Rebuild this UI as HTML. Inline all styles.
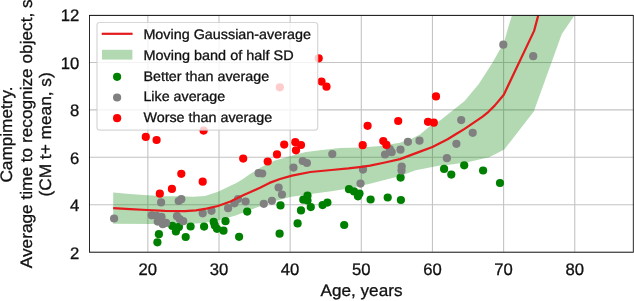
<!DOCTYPE html>
<html><head><meta charset="utf-8"><title>Campimetry</title>
<style>html,body{margin:0;padding:0;background:#fff}svg{display:block}text{font-family:"Liberation Sans",Arial,Helvetica,sans-serif;fill:#111;stroke:#111;stroke-width:0.3px;text-rendering:geometricPrecision}</style></head><body>
<svg width="634" height="301" viewBox="0 0 634 301">
<rect width="634" height="301" fill="#fff"/>
<defs><clipPath id="ax"><rect x="89.45" y="15.45" width="543.85" height="236.75"/></clipPath></defs>
<path d="M147.85 15.45V252.20M219.00 15.45V252.20M290.15 15.45V252.20M361.30 15.45V252.20M432.45 15.45V252.20M503.60 15.45V252.20M574.75 15.45V252.20M89.45 252.20H633.30M89.45 204.76H633.30M89.45 157.32H633.30M89.45 109.88H633.30M89.45 62.44H633.30M89.45 15.00H633.30" stroke="#c4c4c4" stroke-width="1.1" fill="none"/>
<g clip-path="url(#ax)">
<path d="M113.2 192.5 L130.0 194.0 L147.7 195.3 L165.0 196.3 L180.0 196.2 L193.0 196.8 L205.0 195.9 L218.0 191.8 L230.5 185.8 L236.3 182.9 L243.0 179.0 L248.9 174.7 L261.5 167.1 L274.2 160.8 L290.6 155.9 L306.0 152.0 L320.0 150.2 L340.0 147.9 L361.0 147.4 L380.0 145.9 L400.0 142.8 L410.0 139.5 L420.0 134.5 L432.0 124.5 L440.0 120.5 L451.4 111.6 L464.6 101.0 L478.8 84.0 L492.6 62.6 L499.6 50.0 L503.5 44.0 L508.5 26.5 L512.1 15.1 L574.8 15.1 L561.8 34.1 L533.8 111.5 L504.3 149.4 L489.2 157.2 L468.4 161.9 L449.5 164.7 L440.0 165.5 L415.7 170.3 L400.0 176.0 L370.0 183.7 L348.4 188.4 L331.4 191.3 L310.6 194.1 L290.3 197.0 L280.0 199.8 L268.9 202.8 L260.0 206.2 L250.0 210.0 L235.7 215.6 L218.7 220.3 L203.5 223.1 L188.4 224.0 L150.0 224.0 L113.2 223.8 Z" fill="#008000" fill-opacity="0.3"/>
<g fill="#008000"><circle cx="158.9" cy="234.2" r="4.1"/><circle cx="157.4" cy="242.3" r="4.1"/><circle cx="172.3" cy="225.9" r="4.1"/><circle cx="175.9" cy="231.5" r="4.1"/><circle cx="178.9" cy="226.9" r="4.1"/><circle cx="176.5" cy="228.0" r="4.1"/><circle cx="190.6" cy="226.5" r="4.1"/><circle cx="204.1" cy="226.6" r="4.1"/><circle cx="185.7" cy="237.0" r="4.1"/><circle cx="213.7" cy="221.9" r="4.1"/><circle cx="214.8" cy="225.4" r="4.1"/><circle cx="217.0" cy="228.8" r="4.1"/><circle cx="223.5" cy="230.7" r="4.1"/><circle cx="225.5" cy="221.2" r="4.1"/><circle cx="247.2" cy="211.6" r="4.1"/><circle cx="239.1" cy="236.8" r="4.1"/><circle cx="280.5" cy="205.4" r="4.1"/><circle cx="307.5" cy="195.7" r="4.1"/><circle cx="303.3" cy="199.7" r="4.1"/><circle cx="307.5" cy="200.6" r="4.1"/><circle cx="310.8" cy="207.1" r="4.1"/><circle cx="327.4" cy="202.6" r="4.1"/><circle cx="322.6" cy="205.1" r="4.1"/><circle cx="301.0" cy="210.4" r="4.1"/><circle cx="279.6" cy="233.7" r="4.1"/><circle cx="297.6" cy="223.4" r="4.1"/><circle cx="400.6" cy="177.6" r="4.1"/><circle cx="349.0" cy="189.2" r="4.1"/><circle cx="354.0" cy="191.4" r="4.1"/><circle cx="359.5" cy="193.5" r="4.1"/><circle cx="358.0" cy="196.3" r="4.1"/><circle cx="370.6" cy="199.5" r="4.1"/><circle cx="387.7" cy="197.5" r="4.1"/><circle cx="400.9" cy="200.0" r="4.1"/><circle cx="344.2" cy="225.0" r="4.1"/><circle cx="444.1" cy="168.9" r="4.1"/><circle cx="451.3" cy="174.6" r="4.1"/><circle cx="464.2" cy="165.3" r="4.1"/><circle cx="483.1" cy="170.5" r="4.1"/><circle cx="500.0" cy="183.0" r="4.1"/></g>
<g fill="#808080"><circle cx="114.1" cy="218.5" r="4.1"/><circle cx="151.7" cy="215.3" r="4.1"/><circle cx="156.5" cy="215.8" r="4.1"/><circle cx="161.5" cy="216.8" r="4.1"/><circle cx="157.7" cy="221.6" r="4.1"/><circle cx="162.8" cy="224.2" r="4.1"/><circle cx="166.1" cy="222.9" r="4.1"/><circle cx="177.0" cy="216.2" r="4.1"/><circle cx="161.1" cy="202.4" r="4.1"/><circle cx="178.7" cy="201.0" r="4.1"/><circle cx="181.3" cy="199.2" r="4.1"/><circle cx="183.2" cy="221.2" r="4.1"/><circle cx="179.7" cy="219.0" r="4.1"/><circle cx="202.7" cy="213.3" r="4.1"/><circle cx="211.5" cy="210.8" r="4.1"/><circle cx="228.1" cy="208.2" r="4.1"/><circle cx="238.0" cy="199.0" r="4.1"/><circle cx="245.6" cy="201.5" r="4.1"/><circle cx="234.5" cy="203.3" r="4.1"/><circle cx="258.6" cy="173.2" r="4.1"/><circle cx="262.2" cy="173.5" r="4.1"/><circle cx="278.6" cy="187.5" r="4.1"/><circle cx="282.0" cy="194.5" r="4.1"/><circle cx="271.9" cy="200.8" r="4.1"/><circle cx="263.8" cy="203.8" r="4.1"/><circle cx="293.5" cy="167.6" r="4.1"/><circle cx="302.7" cy="161.0" r="4.1"/><circle cx="306.9" cy="163.0" r="4.1"/><circle cx="332.3" cy="154.1" r="4.1"/><circle cx="363.0" cy="169.6" r="4.1"/><circle cx="360.5" cy="183.6" r="4.1"/><circle cx="401.7" cy="166.5" r="4.1"/><circle cx="401.5" cy="170.5" r="4.1"/><circle cx="385.0" cy="154.5" r="4.1"/><circle cx="389.8" cy="149.0" r="4.1"/><circle cx="391.7" cy="152.2" r="4.1"/><circle cx="400.5" cy="149.7" r="4.1"/><circle cx="407.9" cy="141.8" r="4.1"/><circle cx="419.5" cy="140.7" r="4.1"/><circle cx="461.2" cy="120.1" r="4.1"/><circle cx="472.7" cy="132.8" r="4.1"/><circle cx="456.4" cy="143.8" r="4.1"/><circle cx="446.9" cy="158.2" r="4.1"/><circle cx="503.3" cy="44.7" r="4.1"/><circle cx="533.2" cy="56.2" r="4.1"/></g>
<g fill="#ff0000"><circle cx="145.8" cy="136.9" r="4.1"/><circle cx="156.6" cy="140.0" r="4.1"/><circle cx="203.6" cy="130.6" r="4.1"/><circle cx="243.2" cy="158.6" r="4.1"/><circle cx="159.8" cy="193.7" r="4.1"/><circle cx="171.9" cy="188.9" r="4.1"/><circle cx="181.3" cy="173.8" r="4.1"/><circle cx="202.7" cy="181.7" r="4.1"/><circle cx="267.7" cy="161.5" r="4.1"/><circle cx="277.0" cy="154.4" r="4.1"/><circle cx="284.2" cy="144.6" r="4.1"/><circle cx="295.3" cy="142.2" r="4.1"/><circle cx="301.0" cy="145.0" r="4.1"/><circle cx="296.0" cy="150.3" r="4.1"/><circle cx="362.7" cy="145.2" r="4.1"/><circle cx="383.3" cy="141.1" r="4.1"/><circle cx="386.4" cy="144.9" r="4.1"/><circle cx="367.6" cy="125.8" r="4.1"/><circle cx="398.2" cy="121.0" r="4.1"/><circle cx="428.0" cy="121.8" r="4.1"/><circle cx="433.8" cy="122.7" r="4.1"/><circle cx="436.0" cy="96.4" r="4.1"/><circle cx="318.7" cy="58.3" r="4.1"/><circle cx="321.5" cy="81.6" r="4.1"/><circle cx="326.5" cy="86.7" r="4.1"/><circle cx="279.8" cy="87.3" r="4.1"/></g>
<path d="M113.2 208.2 L130.0 209.2 L147.0 210.0 L165.0 210.8 L185.0 211.2 L196.0 210.4 L206.5 208.6 L217.9 206.0 L230.5 201.5 L243.1 195.3 L250.0 192.3 L260.0 187.7 L269.5 182.9 L280.0 179.0 L292.0 175.6 L310.3 172.0 L331.4 170.0 L348.4 168.4 L361.5 166.8 L370.0 165.6 L385.0 162.5 L400.0 159.1 L410.0 155.4 L420.0 151.6 L432.4 147.0 L447.6 139.3 L455.7 134.3 L464.6 128.9 L473.4 122.9 L482.6 116.7 L488.5 111.8 L494.9 105.4 L503.8 94.7 L534.1 30.9 L538.3 15.1" fill="none" stroke="#e41a1c" stroke-width="2.2" stroke-linejoin="round" stroke-linecap="butt"/>
</g>
<rect x="89.45" y="15.45" width="543.85" height="236.75" fill="none" stroke="#111" stroke-width="0.9"/>
<g font-size="16.67px" text-anchor="middle">
<text x="147.8" y="275.1">20</text>
<text x="219.0" y="275.1">30</text>
<text x="290.1" y="275.1">40</text>
<text x="361.3" y="275.1">50</text>
<text x="432.5" y="275.1">60</text>
<text x="503.6" y="275.1">70</text>
<text x="574.8" y="275.1">80</text>
</g>
<g font-size="16.67px" text-anchor="end">
<text x="79.2" y="258.5">2</text>
<text x="79.2" y="211.1">4</text>
<text x="79.2" y="163.6">6</text>
<text x="79.2" y="116.2">8</text>
<text x="79.2" y="68.7">10</text>
<text x="79.2" y="21.3">12</text>
</g>
<text x="361.5" y="296.2" font-size="16.67px" text-anchor="middle" textLength="81.9" lengthAdjust="spacingAndGlyphs">Age, years</text>
<g font-size="16.67px" text-anchor="middle">
<text transform="translate(11.9 134.5) rotate(-90)" textLength="96.2" lengthAdjust="spacingAndGlyphs">Campimetry.</text>
<text transform="translate(31.6 133.8) rotate(-90)" textLength="268.9" lengthAdjust="spacingAndGlyphs">Average time to recognize object, s</text>
<text transform="translate(50.7 134.4) rotate(-90)" textLength="124.3" lengthAdjust="spacingAndGlyphs">(CM t+ mean, s)</text>
</g>
<rect x="97" y="22.5" width="220.7" height="107.6" rx="2.8" ry="2.8" fill="#fff" fill-opacity="0.8" stroke="#ccc" stroke-opacity="0.8" stroke-width="1.2"/>
<path d="M102.8 33.8H131.5" stroke="#e41a1c" stroke-width="2.2" stroke-linecap="square"/>
<rect x="102" y="49.8" width="30.4" height="9.8" fill="#008000" fill-opacity="0.3"/>
<circle cx="117.1" cy="76.8" r="4.1" fill="#008000"/><circle cx="117.1" cy="97.5" r="4.1" fill="#808080"/><circle cx="117.1" cy="118.2" r="4.1" fill="#ff0000"/>
<g font-size="13.89px">
<text x="143.4" y="38.8" textLength="167.6" lengthAdjust="spacingAndGlyphs">Moving Gaussian-average</text>
<text x="143.4" y="59.6" textLength="150.2" lengthAdjust="spacingAndGlyphs">Moving band of half SD</text>
<text x="143.4" y="80.5" textLength="125.8" lengthAdjust="spacingAndGlyphs">Better than average</text>
<text x="143.4" y="101.3" textLength="81.8" lengthAdjust="spacingAndGlyphs">Like average</text>
<text x="143.4" y="121.9" textLength="128.9" lengthAdjust="spacingAndGlyphs">Worse than average</text>
</g>
</svg></body></html>
